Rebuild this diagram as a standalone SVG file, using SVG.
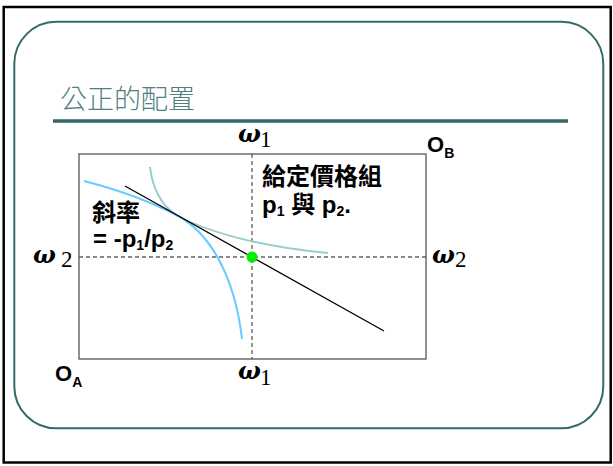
<svg xmlns="http://www.w3.org/2000/svg" width="613" height="466" viewBox="0 0 613 466">
<style>
.om{font-family:"DejaVu Serif","Liberation Serif",serif;font-style:italic;font-weight:bold;font-size:24px;fill:#000}
.dg{font-family:"Liberation Serif",serif;font-style:normal;font-weight:normal;font-size:23px;fill:#000}
.lb{font-family:"Liberation Sans","Noto Sans CJK TC",sans-serif;font-weight:bold;font-size:24px;fill:#000}
.org{font-family:"Liberation Sans",sans-serif;font-weight:bold;font-size:22px;fill:#000}
.sub{font-size:14px}
.dash{stroke:#8a8a8a;stroke-width:1.8;stroke-dasharray:4 3;fill:none}
</style>
<rect x="0" y="0" width="613" height="466" fill="#fff"/>
<g id="frame">
<rect x="3.7" y="7" width="607" height="455.5" fill="none" stroke="#000" stroke-width="2.5"/>
<rect x="14.3" y="21.8" width="589" height="406.5" rx="42" ry="42" fill="none" stroke="#336a6a" stroke-width="2"/>
</g>
<g id="title">
<text x="60" y="109" font-family="'Noto Sans CJK TC',sans-serif" font-size="27" fill="#4f7f7f" font-weight="300">公正的配置</text>
<line x1="53" y1="121" x2="568" y2="121" stroke="#336666" stroke-width="3.5"/>
</g>
<g id="box">
<line x1="252" y1="154" x2="252" y2="359" class="dash"/>
<line x1="79" y1="257" x2="426" y2="257" class="dash"/>
<rect x="79" y="154" width="347" height="205" fill="none" stroke="#555" stroke-width="1.3"/>
</g>
<g id="connectors">
<path d="M84,181 C115,189 148,200 178,216 C206,231 234,270 242,339" fill="none" stroke="#66ccff" stroke-width="2"/>
<path d="M150,167 C152,185 160,206 178,216 C200,228 250,246 328,253" fill="none" stroke="#99cccc" stroke-width="2"/>
<line x1="125" y1="186" x2="384" y2="331" stroke="#000" stroke-width="1.3"/>
</g>
<g id="point">
<circle cx="252" cy="257" r="5.5" fill="#00ee00"/>
</g>
<g id="labels">
<text class="om" x="238" y="142">ω<tspan class="dg" x="260" dy="5">1</tspan></text>
<text class="om" x="238" y="379">ω<tspan class="dg" x="260" dy="6">1</tspan></text>
<text class="om" x="33" y="263">ω<tspan class="dg" x="61" dy="4">2</tspan></text>
<text class="om" x="432" y="263">ω<tspan class="dg" x="455" dy="4">2</tspan></text>
<text class="org" x="427" y="152">O<tspan class="sub" dy="6">B</tspan></text>
<text class="org" x="55" y="381">O<tspan class="sub" dy="6">A</tspan></text>
<text class="lb" x="262" y="185">給定價格組</text>
<text class="lb" x="262" y="213">p<tspan font-size="14" dy="3">1</tspan><tspan dy="-3"> 與 p</tspan><tspan font-size="14" dy="3">2</tspan><tspan dy="-3">.</tspan></text>
<text class="lb" x="92" y="221">斜率</text>
<text class="lb" x="93" y="247">= -p<tspan font-size="14" dy="3">1</tspan><tspan dy="-3">/p</tspan><tspan font-size="14" dy="3">2</tspan></text>
</g>
</svg>
